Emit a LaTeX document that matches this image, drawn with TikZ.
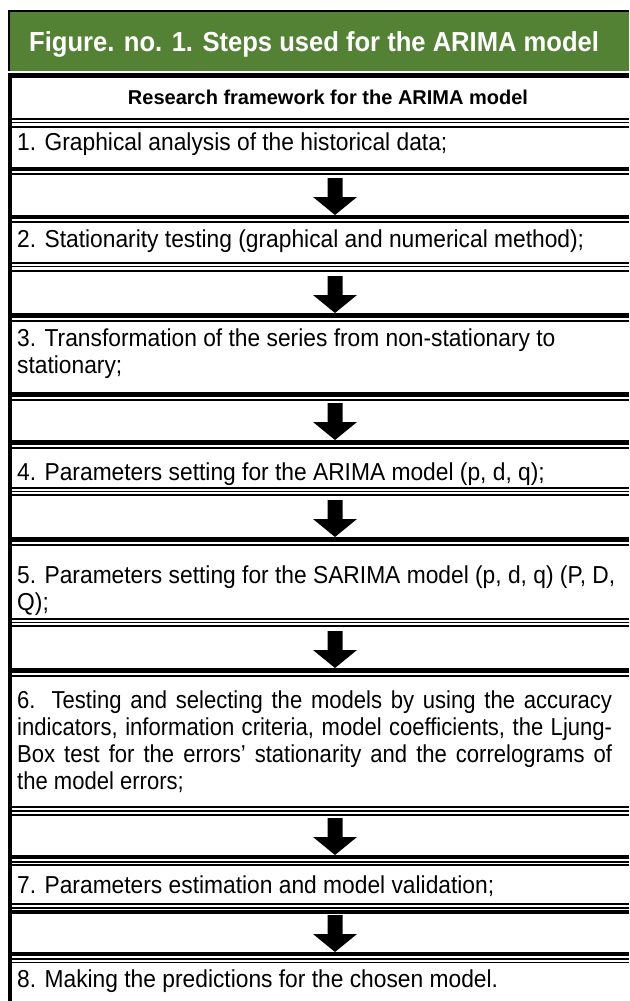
\documentclass[tikz,border=0pt]{standalone}
\usepackage{fontspec}
\usepackage{graphicx}
\setmainfont{Liberation Sans}
\usetikzlibrary{calc}
\definecolor{hdrgreen}{RGB}{84,130,53}
\tikzset{
  rowtext/.style={anchor=base west, inner sep=0pt, font=\fontsize{24.5}{29}\selectfont},
  titletext/.style={anchor=base west, inner sep=0pt, text=white, font=\fontsize{27.5}{32}\selectfont\bfseries},
  headtext/.style={anchor=base, inner sep=0pt, font=\fontsize{20}{24}\selectfont\bfseries},
  blockarrow/.style={fill=black},
}
\newcommand\nar[1]{\scalebox{0.93}[1]{#1}}
\newcommand\narj[1]{\scalebox{0.9}[1]{\makebox[661pt][s]{#1}}}
% horizontal rule from y1 to y2
\newcommand\hrulebar[2]{\fill[black] (8,#1) rectangle (629,#2);}
% block arrow named #1 with tip at y=#2
\newcommand\downarrowshape[2]{%
  \coordinate (#1) at (335,#2);
  \fill[blockarrow] ($(#1)+(-7.5,-37)$) -- ($(#1)+(7.5,-37)$) -- ($(#1)+(7.5,-18)$) -- ($(#1)+(22,-18)$) -- (#1) -- ($(#1)+(-22,-18)$) -- ($(#1)+(-7.5,-18)$) -- cycle;}
\begin{document}
\begin{tikzpicture}[x=1pt,y=-1pt]
\useasboundingbox (0,0) rectangle (629,1001);
\fill[white] (0,0) rectangle (629,1001);
% header
\fill[hdrgreen] (10,12) rectangle (629,71);
\fill[black] (8,10) rectangle (629,12);
\fill[black] (8,10) rectangle (10,71);
% left border
\fill[black] (8,73) rectangle (12,1001);
% boundaries
\hrulebar{73}{78}
\hrulebar{118}{120}\hrulebar{121.7}{123.3}\hrulebar{126}{128.3}
\hrulebar{167}{171}\hrulebar{173}{175}
\hrulebar{215}{219}\hrulebar{221}{223}
\hrulebar{262}{264}\hrulebar{265.7}{267.3}\hrulebar{270}{272}
\hrulebar{313}{317.5}\hrulebar{319.5}{321.5}
\hrulebar{392}{396.5}\hrulebar{398.5}{400.5}
\hrulebar{440}{444.5}\hrulebar{446.5}{448.5}
\hrulebar{487}{489}\hrulebar{490.7}{492.3}\hrulebar{494}{496}
\hrulebar{537}{541.5}\hrulebar{543.5}{545.5}
\hrulebar{618}{620}\hrulebar{621.7}{623.3}\hrulebar{625}{627}
\hrulebar{668}{672.5}\hrulebar{674.5}{676.5}
\hrulebar{806}{808}\hrulebar{810}{812}\hrulebar{814}{816}
\hrulebar{855}{859}\hrulebar{861}{862.7}\hrulebar{864}{866}
\hrulebar{903}{905}\hrulebar{907}{909}\hrulebar{910}{914}
\hrulebar{952}{956}\hrulebar{958}{960}\hrulebar{961.7}{963.3}
% texts
\node[titletext] (title) at (29,51) {\nar{Figure. no. 1. Steps used for the ARIMA model}};
\node[headtext] (frame) at (328,104) {Research framework for the ARIMA model};
\node[rowtext] (s1) at (17,150) {\nar{1. Graphical analysis of the historical data;}};
\node[rowtext] (s2) at (17,247) {\nar{2. Stationarity testing (graphical and numerical method);}};
\node[rowtext] (s3a) at (17,346) {\nar{3. Transformation of the series from non-stationary to}};
\node[rowtext] (s3b) at (17,373) {\nar{stationary;}};
\node[rowtext] (s4) at (17,480) {\nar{4. Parameters setting for the ARIMA model (p, d, q);}};
\node[rowtext] (s5a) at (17,583) {\nar{5. Parameters setting for the SARIMA model (p, d, q) (P, D,}};
\node[rowtext] (s5b) at (17,610) {\nar{Q);}};
\node[rowtext] (s6a) at (17,708) {\narj{6. Testing and selecting the models by using the accuracy}};
\node[rowtext] (s6b) at (17,735) {\narj{indicators, information criteria, model coefficients, the Ljung-}};
\node[rowtext] (s6c) at (17,762) {\narj{Box test for the errors’ stationarity and the correlograms of}};
\node[rowtext] (s6d) at (17,789) {\scalebox{0.9}[1]{the model errors;}};
\node[rowtext] (s7) at (17,893) {\nar{7. Parameters estimation and model validation;}};
\node[rowtext] (s8) at (17,987) {\nar{8. Making the predictions for the chosen model.}};
% arrows
\downarrowshape{a1}{215}
\downarrowshape{a2}{313}
\downarrowshape{a3}{440}
\downarrowshape{a4}{537}
\downarrowshape{a5}{668}
\downarrowshape{a6}{855}
\downarrowshape{a7}{952}
\end{tikzpicture}
\end{document}
